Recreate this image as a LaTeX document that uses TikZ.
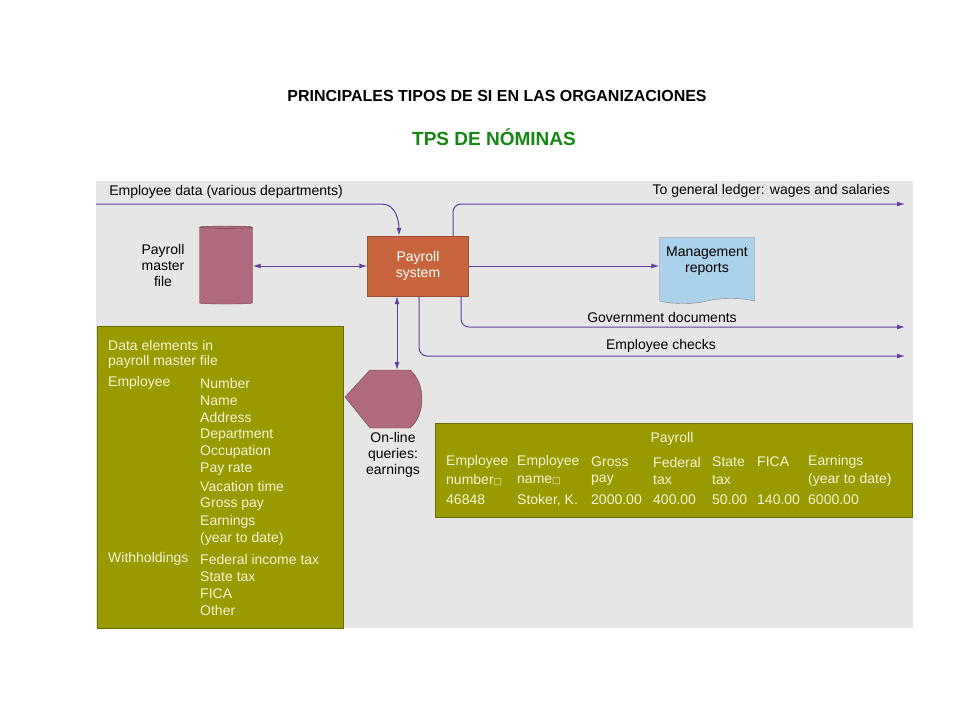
\documentclass[tikz,border=0pt]{standalone}
\usepackage{fontspec}
\setmainfont{Liberation Sans}
\newfontfamily\symfont{DejaVu Sans}
\usetikzlibrary{shapes.geometric,shapes.symbols,arrows.meta}
\definecolor{panelgray}{RGB}{230,230,230}
\definecolor{olivebox}{RGB}{153,153,0}
\definecolor{olivetext}{RGB}{245,245,215}
\definecolor{flowline}{RGB}{95,65,160}
\definecolor{mauvefill}{RGB}{176,106,126}
\definecolor{rustfill}{RGB}{200,100,62}
\definecolor{reportblue}{RGB}{170,210,235}
\definecolor{titlegreen}{RGB}{20,135,20}
\newcommand{\gap}{{\symfont\fontsize{9}{9}\selectfont □}}
\tikzset{
  flow/.style={draw=flowline, line width=1pt, -{Latex[length=8pt,width=5pt]}},
  flowboth/.style={draw=flowline, line width=1pt, {Latex[length=8pt,width=5pt]}-{Latex[length=8pt,width=5pt]}},
  label/.style={font=\fontsize{14}{16}\selectfont, align=center, inner sep=0pt},
  boxtext/.style={font=\fontsize{14}{16}\selectfont, text=olivetext, anchor=west, inner sep=0pt},
}
\begin{document}
\begin{tikzpicture}[x=1pt,y=-1pt]
\useasboundingbox (0,0) rectangle (960,720);
% titles
\node[font=\bfseries\fontsize{16}{18}\selectfont] (title) at (497,96) {PRINCIPALES TIPOS DE SI EN LAS ORGANIZACIONES};
\node[font=\bfseries\fontsize{19}{21}\selectfont, text=titlegreen] (subtitle) at (494,137) {TPS DE NÓMINAS};
% panel
\fill[panelgray] (96,181) rectangle (913,628);
% payroll system
\node[draw=rustfill!80!black, fill=rustfill, text=white, minimum width=101, minimum height=60, label] (sys) at (418,266) {Payroll\\system};
% master file
\node[cylinder, shape border rotate=90, draw=mauvefill!60!black, fill=mauvefill, minimum width=53, minimum height=78, aspect=0.35] (master) at (226,266) {};
\node[label] (masterlbl) at (163,265) {Payroll\\master\\file};
\draw[flowboth] (master.east |- sys.west) -- (sys.west);
% employee data
\coordinate (datain) at (96,204);
\draw[flow] (datain) -- (382,204) to[out=0,in=90] ([xshift=-19pt]sys.north);
\node[label] (datalbl) at (226,192) {Employee data (various departments)};
% general ledger
\coordinate (ledger) at (905,204);
\draw[flow, rounded corners=8pt] ([xshift=35pt]sys.north) |- (ledger);
\node[label, anchor=east] (ledgerlbl) at (890,191) {To general ledger: wages and salaries};
% management reports
\node[tape, tape bend top=none, draw=gray, fill=reportblue, minimum width=95, minimum height=66, label, text depth=16pt] (reports) at (707,268) {Management\\reports};
\draw[flow] (sys.east) -- (reports.west |- sys.east);
% government documents
\coordinate (govt) at (905,327);
\draw[flow, rounded corners=8pt] ([xshift=43pt]sys.south) |- (govt);
\node[label] (govtlbl) at (662,317) {Government documents};
% employee checks
\coordinate (checks) at (905,356);
\draw[flow, rounded corners=8pt] ([xshift=1pt]sys.south) |- (checks);
\node[label] (checkslbl) at (661,346) {Employee checks};
% on-line queries
\coordinate (query) at (397,370);
\draw[draw=mauvefill!60!black, fill=mauvefill] (query) -- (370,370) -- (345,397) -- (370,428) -- (410,428)
  .. controls (426,415) and (426,383) .. (410,370) -- cycle;
\draw[flowboth] ([xshift=-21pt]sys.south) -- (query);
\node[label] (querylbl) at (393,455) {On-line\\queries:\\earnings};
% data elements box
\node[fill=olivebox, draw=olivebox!70!black, minimum width=246, minimum height=302, anchor=north west] (elements) at (97,326) {};
\node[boxtext] (e1) at (108,345) {Data elements in};
\node[boxtext] (e2) at (108,362) {payroll master file};
\node[boxtext] (emp) at (108,383) {Employee};
\node[boxtext] (wh) at (108,559) {Withholdings};
\foreach \txt [count=\i from 0] in {Number,Name,Address,Department,Occupation,Pay rate,Vacation time,Gross pay,Earnings,(year to date)}
  \node[boxtext] (item\i) at (200,383+17.3*\i) {\txt};
\foreach \txt [count=\i from 0] in {Federal income tax,State tax,FICA,Other}
  \node[boxtext] (hold\i) at (200,559+17.2*\i) {\txt};
% payroll table
\node[fill=olivebox, draw=olivebox!70!black, minimum width=477, minimum height=94, anchor=north west] (payroll) at (435,423) {};
\node[boxtext, anchor=center] (ptitle) at (672,439) {Payroll};
\node[boxtext] (c1) at (446,462) {Employee};
\node[boxtext] (c1b) at (446,480) {number\gap};
\node[boxtext] (c1c) at (446,500) {46848};
\node[boxtext] (c2) at (517,462) {Employee};
\node[boxtext] (c2b) at (517,480) {name\gap};
\node[boxtext] (c2c) at (517,500) {Stoker, K.};
\node[boxtext] (c3) at (591,462) {Gross};
\node[boxtext] (c3b) at (591,480) {pay};
\node[boxtext] (c3c) at (591,500) {2000.00};
\node[boxtext] (c4) at (653,462) {Federal};
\node[boxtext] (c4b) at (653,480) {tax};
\node[boxtext] (c4c) at (653,500) {400.00};
\node[boxtext] (c5) at (712,462) {State};
\node[boxtext] (c5b) at (712,480) {tax};
\node[boxtext] (c5c) at (712,500) {50.00};
\node[boxtext] (c6) at (757,462) {FICA};
\node[boxtext] (c6c) at (757,500) {140.00};
\node[boxtext] (c7) at (808,462) {Earnings};
\node[boxtext] (c7b) at (808,480) {(year to date)};
\node[boxtext] (c7c) at (808,500) {6000.00};
\end{tikzpicture}
\end{document}
